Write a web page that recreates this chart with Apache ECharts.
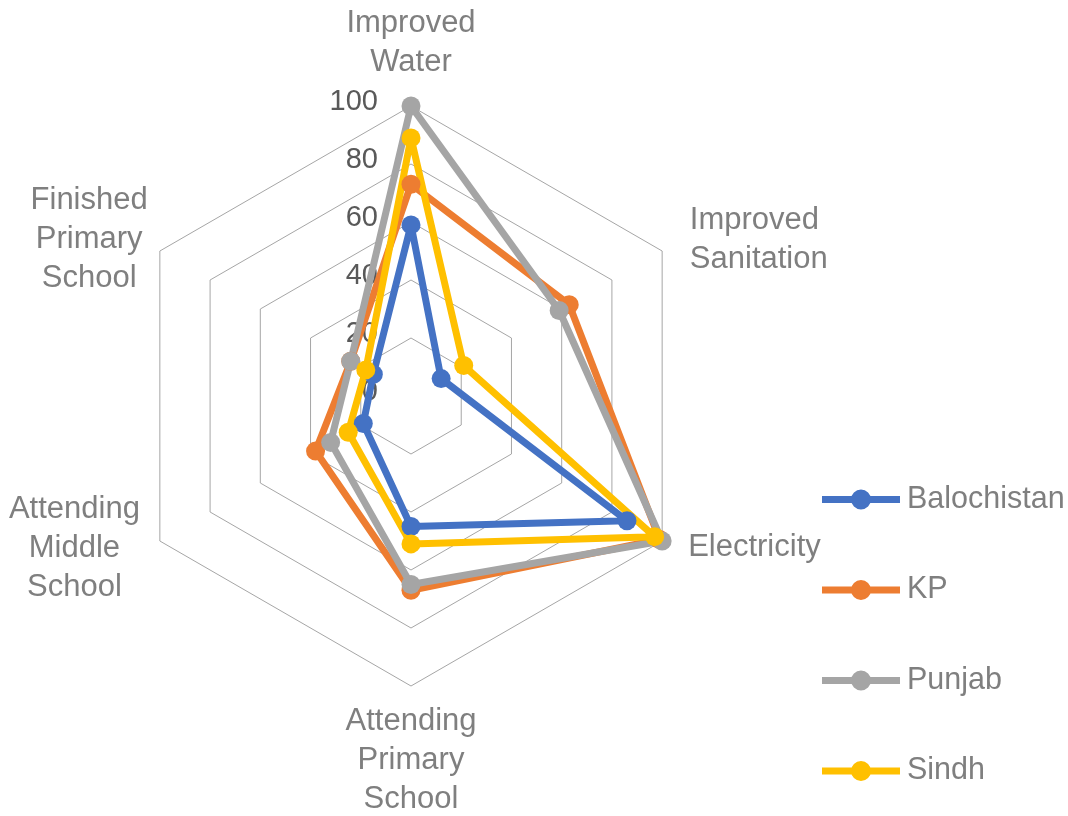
<!DOCTYPE html>
<html>
<head>
<meta charset="utf-8">
<script src="https://cdn.jsdelivr.net/npm/echarts@6/dist/echarts.min.js"></script>
<style>html,body{margin:0;padding:0;background:#fff}#c{width:1068px;height:816px}</style>
</head>
<body>
<div id="c"></div>
<script>
// Categories listed clockwise starting at the top
const categories = ['Improved\nWater', 'Improved\nSanitation', 'Electricity', 'Attending\nPrimary\nSchool', 'Attending\nMiddle\nSchool', 'Finished\nPrimary\nSchool'];
const balochistan = [59, 12, 86, 45, 19, 15];
const kp          = [73, 63, 99, 67, 38, 24];
const punjab      = [100, 59, 100, 65, 32, 24];
const sindh       = [89, 21, 97, 51, 25, 18];
const seriesNames = ['Balochistan', 'KP', 'Punjab', 'Sindh'];
const tickMax = 100;
const colors = ['#4472C4', '#ED7D31', '#A5A5A5', '#FFC000'];

// label styling per category (clockwise order)
const nameGaps = [24, 32, 30, 16, 23, 14];
const nameAlign = ['center', 'left', 'left', 'center', 'center', 'center'];
const nameShift = [0, 5, -9, 0, -4, -5]; // + down, - up

// ECharts places indicators counter-clockwise; reorder to get clockwise layout
const order = [0, 5, 4, 3, 2, 1];
const reorder = arr => order.map(i => arr[i]);
const allValues = [balochistan, kp, punjab, sindh];

const font = "'Liberation Sans', Arial, sans-serif";
const chart = echarts.init(document.getElementById('c'), null, {renderer: 'canvas'});
const txt = {color: '#7f7f7f', fontSize: 31, lineHeight: 39, fontFamily: font};
const rich = {};
const idxByName = {};
categories.forEach((c, i) => {
  idxByName[c] = i;
  const sh = nameShift[i];
  rich['s' + i] = Object.assign({align: nameAlign[i], padding: sh < 0 ? [0, 0, -2 * sh, 0] : [2 * sh, 0, 0, 0]}, txt);
});
const indicator = order.map((ci, i) => {
  const o = {name: categories[ci], min: 0, max: tickMax, nameGap: nameGaps[ci]};
  if (i === 0) o.axisLabel = {show: true};
  return o;
});
const legendIcon = 'path://M0,6.5H78V13.5H0Z M29,10A10,10 0 1 1 49,10A10,10 0 1 1 29,10Z';

chart.setOption({
  animation: false,
  backgroundColor: '#fff',
  textStyle: {fontFamily: font},
  legend: {
    orient: 'vertical',
    left: 822,
    top: 484,
    itemWidth: 78,
    itemHeight: 20,
    itemGap: 59.5,
    padding: 0,
    data: seriesNames.map(n => ({name: n, icon: legendIcon})),
    itemStyle: {borderWidth: 0},
    textStyle: {fontSize: 30.5, color: '#7f7f7f', fontFamily: font, padding: [0, 0, 0, 2]}
  },
  radar: {
    center: [411, 396],
    radius: 290,
    startAngle: 90,
    splitNumber: 5,
    shape: 'polygon',
    indicator: indicator,
    nameGap: 24,
    axisName: Object.assign({}, txt, {
      formatter: function (name) {
        const i = idxByName[name];
        return name.split('\n').map(t => '{s' + i + '|' + t + '}').join('\n');
      },
      rich: rich
    }),
    axisLine: {show: false},
    axisTick: {show: false},
    axisLabel: {
      show: false, color: '#595959', fontSize: 29, fontFamily: font, margin: 33,
      formatter: v => '{t|' + v + '}',
      rich: {t: {color: '#595959', fontSize: 29, fontFamily: font, lineHeight: 34, padding: [0, 0, 8, 0]}}
    },
    splitLine: {lineStyle: {color: '#a6a6a6', width: 1}},
    splitArea: {show: false}
  },
  series: seriesNames.map((n, k) => ({
    type: 'radar',
    name: n,
    symbol: 'circle',
    symbolSize: 19,
    itemStyle: {color: colors[k]},
    lineStyle: {color: colors[k], width: 7},
    data: [{name: n, value: reorder(allValues[k])}]
  }))
});
</script>
</body>
</html>
